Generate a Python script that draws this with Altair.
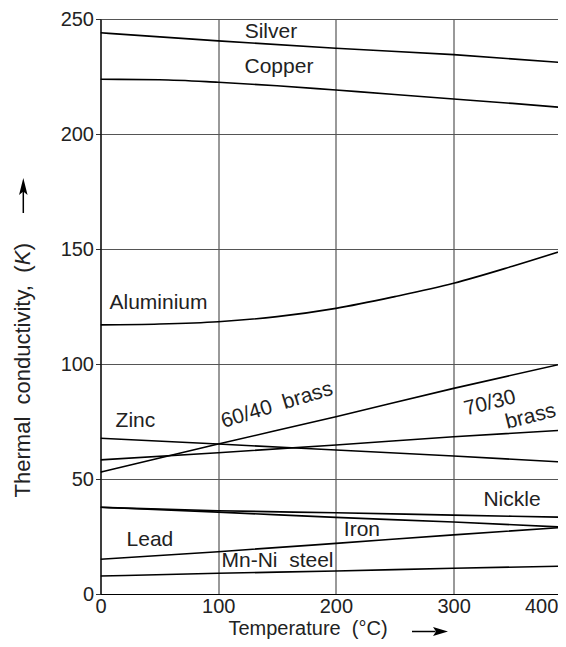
import altair as alt
import pandas as pd

# ---- data ----
temps = [0, 100, 200, 300, 400]
temps_fine = [0, 50, 100, 150, 200, 250, 300, 350, 400]

silver = [244.0, 240.5, 237.3, 234.5, 230.8]
copper = [223.8, 223.6, 222.5, 221.0, 219.1, 217.2, 215.2, 213.3, 211.2]
aluminium = [117.0, 117.4, 118.4, 120.6, 124.2, 129.3, 135.1, 142.5, 150.5]
brass_60_40 = [53.0, 65.2, 77.1, 89.4, 101.0]
brass_70_30 = [58.3, 61.4, 64.8, 68.4, 71.4]
zinc = [67.7, 65.2, 62.6, 60.0, 57.2]
nickle = [37.7, 36.2, 35.3, 34.3, 33.3]
iron = [37.7, 35.6, 33.3, 31.3, 28.9]
lead = [15.1, 18.4, 22.0, 25.7, 29.2]
mn_ni_steel = [7.8, 9.0, 10.0, 11.2, 12.2]

x_ticks = [0, 100, 200, 300, 400]
y_ticks = [0, 50, 100, 150, 200, 250]

NB = "\u00a0"
# curve labels (text, temperature, conductivity, rotation)
label_text = ["Silver", "Copper", "Aluminium", "60/40" + NB + " brass", "70/30", "brass",
              "Zinc", "Nickle", "Iron", "Lead", "Mn-Ni" + NB + " steel"]
label_temp = [144.8, 151.6, 49.3, 149.9, 330.9, 365.5, 29.7, 349.6, 222.1, 42.0, 150.4]
label_k = [244.5, 229.1, 126.7, 82.0, 82.9, 77.1, 75.3, 40.9, 27.8, 23.3, 14.5]
label_angle = [0, 0, 0, 343, 346, 346, 0, 0, 0, 0, 0]

series = {
    "Silver": (temps, silver),
    "Copper": (temps_fine, copper),
    "Aluminium": (temps_fine, aluminium),
    "60/40 brass": (temps, brass_60_40),
    "70/30 brass": (temps, brass_70_30),
    "Zinc": (temps, zinc),
    "Nickle": (temps, nickle),
    "Iron": (temps, iron),
    "Lead": (temps, lead),
    "Mn-Ni steel": (temps, mn_ni_steel),
}
rows = []
for name, (xs, ys) in series.items():
    for t, k in zip(xs, ys):
        rows.append({"material": name, "temp": t, "k": k})
df = pd.DataFrame(rows)

labels_df = pd.DataFrame({"text": label_text, "temp": label_temp,
                          "k": label_k, "angle": label_angle})

FONT = "Liberation Sans"
W, H = 457.5, 575
XRANGE = 470.8  # 400 °C lies just past the cropped right edge, as in the reference

xscale = alt.Scale(domain=[0, 400], range=[0, XRANGE], nice=False, zero=False)
yscale = alt.Scale(domain=[0, 250], nice=False)

xaxis = alt.Axis(values=x_ticks, title=None, ticks=False, labelPadding=2,
                 labelFontSize=20, labelFont=FONT, labelColor="#222",
                 labelFlush=False,
                 labelAlign=alt.condition("datum.value == 400", alt.value("right"), alt.value("center")),
                 labelOffset=alt.condition("datum.value == 400", alt.value(-13.5), alt.value(0)),
                 gridOpacity=alt.condition("datum.value == 400", alt.value(0), alt.value(1)),
                 grid=True, gridColor="#555", gridWidth=1.2,
                 domainColor="black", domainWidth=1.2)
yaxis = alt.Axis(values=y_ticks, title=None, tickSize=5, tickColor="#333",
                 labelPadding=2, labelFontSize=20, labelFont=FONT, labelColor="#222",
                 grid=True, gridColor="#555", gridWidth=1.2,
                 domainColor="black", domainWidth=1.2)

lines = alt.Chart(df).mark_line(color="black", strokeWidth=1.6,
                                interpolate="monotone", clip=True).encode(
    x=alt.X("temp:Q", scale=xscale, axis=xaxis),
    y=alt.Y("k:Q", scale=yscale, axis=yaxis),
    detail="material:N",
    order="temp:Q",
)

labels = alt.Chart(labels_df).mark_text(font=FONT, fontSize=21, color="#222",
                                        baseline="middle", align="center").encode(
    x=alt.X("temp:Q", scale=xscale),
    y=alt.Y("k:Q", scale=yscale),
    text="text:N",
    angle=alt.Angle("angle:Q", scale=None),
)

one = pd.DataFrame({"a": [0]})

# y-axis title (with italic K) drawn as rotated text
ytitle_main = alt.Chart(one).mark_text(text="Thermal" + NB + " conductivity," + NB + " (",
                                       font=FONT, fontSize=22,
                                       color="#222", angle=270, align="right",
                                       baseline="alphabetic").encode(
    x=alt.value(-70.5), y=alt.value(246.5))
ytitle_k = alt.Chart(one).mark_text(text="K", font=FONT, fontSize=22, fontStyle="italic",
                                    color="#222", angle=270, align="right",
                                    baseline="alphabetic").encode(
    x=alt.value(-70.5), y=alt.value(231.5))
ytitle_end = alt.Chart(one).mark_text(text=")", font=FONT, fontSize=22,
                                      color="#222", angle=270, align="right",
                                      baseline="alphabetic").encode(
    x=alt.value(-70.5), y=alt.value(224))

xtitle = alt.Chart(one).mark_text(text="Temperature" + NB + " (°C)", font=FONT, fontSize=20,
                                  color="#222", align="center",
                                  baseline="alphabetic").encode(
    x=alt.value(207.5), y=alt.value(615.5))

# arrows
x_arrow_line = alt.Chart(one).mark_rule(color="black", strokeWidth=1.5).encode(
    x=alt.value(311.5), x2=alt.value(335), y=alt.value(612.5))
x_arrow_head = alt.Chart(one).mark_point(shape="M1,0L-1,-0.6L-0.6,0L-1,0.6Z", filled=True,
                                         color="black", opacity=1, size=225).encode(
    x=alt.value(340), y=alt.value(612.5))
y_arrow_line = alt.Chart(one).mark_rule(color="black", strokeWidth=1.5).encode(
    x=alt.value(-77.2), y=alt.value(171), y2=alt.value(194))
y_arrow_head = alt.Chart(one).mark_point(shape="M0,-1L0.5,1L0,0.6L-0.5,1Z", filled=True,
                                         color="black", opacity=1, size=289).encode(
    x=alt.value(-77.2), y=alt.value(167.5))

chart = alt.layer(
    lines, labels, ytitle_main, ytitle_k, ytitle_end, xtitle,
    x_arrow_line, x_arrow_head, y_arrow_line, y_arrow_head
).properties(
    width=W, height=H,
    autosize=alt.AutoSizeParams(type="none"),
    padding={"left": 92.5, "top": 11, "right": 0, "bottom": 45},
    background="white",
).configure_view(stroke=None)

chart.save("out.html", embed_options={"renderer": "svg", "actions": False})
